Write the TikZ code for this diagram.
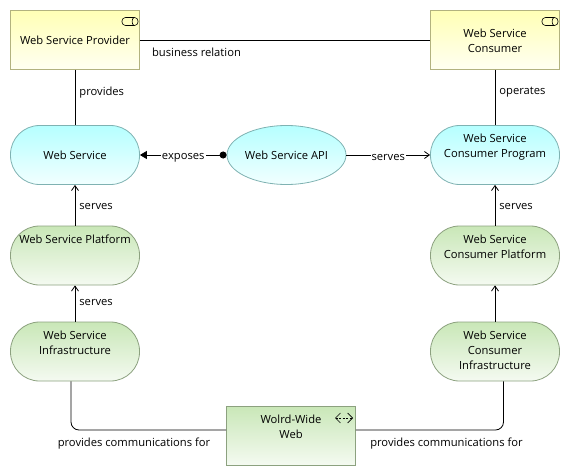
\documentclass[tikz,border=0pt]{standalone}
\usepackage{fontspec}
\setmainfont{Open Sans}
\usetikzlibrary{arrows.meta,shapes.geometric}

\definecolor{yelTop}{HTML}{FFFFB5}
\definecolor{yelBot}{HTML}{FFFFF2}
\definecolor{yelLine}{HTML}{B2B27F}
\definecolor{bluTop}{HTML}{B5FFFF}
\definecolor{bluBot}{HTML}{F2FFFF}
\definecolor{bluLine}{HTML}{7FB2B2}
\definecolor{grnTop}{HTML}{C9E7B7}
\definecolor{grnBot}{HTML}{F4FAF1}
\definecolor{grnLine}{HTML}{8CA17F}

\tikzset{
  every node/.style={font=\fontsize{11.2}{15}\selectfont,align=center,inner sep=0pt},
  elem/.style={minimum width=129pt,minimum height=59pt,line width=.8pt},
  actor/.style={elem,draw=yelLine,top color=yelTop,bottom color=yelBot},
  service/.style={elem,rounded corners=29pt,draw=bluLine,top color=bluTop,bottom color=bluBot},
  iface/.style={elem,ellipse,minimum width=119pt,draw=bluLine,top color=bluTop,bottom color=bluBot},
  infra/.style={elem,rounded corners=29pt,draw=grnLine,top color=grnTop,bottom color=grnBot},
  network/.style={elem,draw=grnLine,top color=grnTop,bottom color=grnBot},
  raised/.style={text depth=#1},
  rel/.style={line width=.8pt},
  serves/.style={rel,-{Straight Barb[length=5pt,width=7pt]}},
  exposes/.style={rel,{Circle[length=7pt]}-{Triangle[length=7pt,width=8pt]}},
  rellabel/.style={fill=white,inner xsep=1pt,yshift=-2.5pt},
  pics/roleicon/.style={code={
      \draw[line width=.6pt,rounded corners=3.5pt] (-16,0) rectangle (0,8);
      \draw[line width=.6pt] (-4,0) .. controls (-6.5,1) and (-6.5,7) .. (-4,8);
  }},
}

\begin{document}
\begin{tikzpicture}[x=1pt,y=-1pt]
  \useasboundingbox (0,0) rectangle (570,476);
  % top row
  \node[actor] (provider) at (75,40) {Web Service Provider};
  \node[actor,text height=25.5pt] (consumer) at (495,40) {Web Service\\Consumer};
  % services
  \node[service] (service) at (75,155) {Web Service};
  \node[iface] (api) at (286.5,155) {Web Service API};
  \node[service,raised=19pt] (program) at (495,155) {Web Service\\Consumer Program};
  % platforms
  \node[infra,raised=32pt] (platform) at (75,255.5) {Web Service Platform};
  \node[infra,raised=17pt] (cplatform) at (495,255.5) {Web Service\\Consumer Platform};
  \node[infra,raised=17pt] (infra) at (75,351.5) {Web Service\\Infrastructure};
  \node[infra,raised=2pt] (cinfra) at (495,351.5) {Web Service\\Consumer\\Infrastructure};
  \node[network,raised=17pt] (www) at (291,435.5) {Wolrd-Wide\\Web};
  % icons
  \pic at (138,17.5) {roleicon};
  \pic at (558,17.5) {roleicon};
  \draw[line width=.6pt,dash pattern=on 2pt off 1.5pt,{Straight Barb[length=5pt,width=10pt]}-{Straight Barb[length=5pt,width=10pt]}] (335,418) -- (353,418);
  % relations
  \draw[rel] (provider) -- (consumer);
  \draw[rel] (provider) -- (service) node[pos=.41,right=4pt] {provides};
  \draw[rel] (consumer) -- (program) node[pos=.41,right=4pt] {operates};
  \draw[exposes] (api.west) -- (service.east) node[midway,rellabel] {exposes};
  \draw[serves] (api.east) -- (program.west) node[midway,rellabel] {serves};
  \draw[serves] (platform) -- (service) node[pos=.48,right=4pt] {serves};
  \draw[serves] (cplatform) -- (program) node[pos=.48,right=4pt] {serves};
  \draw[serves] (infra) -- (platform) node[pos=.54,right=4pt] {serves};
  \draw[serves] (cinfra) -- (cplatform);
  \draw[rel,rounded corners=8pt] ([xshift=-4pt]infra.south) |- ([yshift=5.5pt]www.west);
  \draw[rel,rounded corners=8pt] ([xshift=8.5pt]cinfra.south) |- ([yshift=5.5pt]www.east);
  % free labels
  \node (business) at (196.5,52) {business relation};
  \node (commleft) at (134,444) {provides communications for};
  \node (commright) at (446.5,444) {provides communications for};
\end{tikzpicture}
\end{document}
